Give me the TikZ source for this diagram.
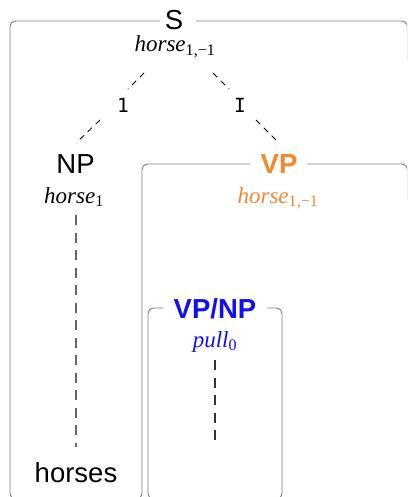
\documentclass[tikz,border=0pt]{standalone}
\usepackage{fontspec}
\setmainfont{Liberation Serif}
\setsansfont{Liberation Sans}
\setmonofont{DejaVu Sans Mono}

\definecolor{vporange}{RGB}{240,136,48}
\definecolor{vpblue}{RGB}{16,16,240}
\definecolor{framegray}{RGB}{128,128,128}

% semantic value: italic head with an upright subscript
\newcommand{\semval}[2]{\textit{#1}\textsubscript{\upshape #2}}

\tikzset{
  frame/.style={draw=framegray, line width=0.9pt, rounded corners=6pt},
  cat/.style={font=\sffamily\fontsize{27.5}{30}\selectfont, inner sep=0pt, anchor=base},
  sem/.style={font=\fontsize{23}{25}\selectfont, inner sep=0pt, anchor=base},
  treeedge/.style={draw=black, dash pattern=on 6pt off 5pt, line width=0.8pt},
  trace/.style={dash pattern=on 10pt off 7.5pt, line width=1.3pt},
  elabel/.style={font=\ttfamily\fontsize{19.5}{22}\selectfont, inner sep=0pt}
}

\begin{document}
\begin{tikzpicture}[x=1pt,y=-1pt]
\useasboundingbox (0,0) rectangle (407,497);
\clip (0,0) rectangle (407,497);

% frames
\draw[frame] (160,21) -- (10,21) -- (10,499) -- (40,499);
\draw[frame] (196,21) -- (407.5,21) -- (407.5,60);
\draw[frame] (250,164) -- (142,164) -- (142,499) -- (100,499);
\draw[frame] (307,164) -- (407.5,164) -- (407.5,200);
\draw[frame] (163,308) -- (148,308) -- (148,499) -- (282,499) -- (282,308) -- (267,308);

% categories and their values
\node[cat] (s) at (174,30) {S};
\node[sem] (sval) at (175,52) {\semval{horse}{1,−1}};
\node[cat] (np) at (75.5,173) {NP};
\node[sem] (npval) at (74,203) {\semval{horse}{1}};
\node[cat, font=\sffamily\bfseries\fontsize{27.5}{30}\selectfont, text=vporange] (vp) at (279,173) {VP};
\node[sem, text=vporange] (vpval) at (278,203) {\semval{horse}{1,−1}};
\node[cat, font=\sffamily\bfseries\fontsize{27.5}{30}\selectfont, text=vpblue] (vpnp) at (215,318) {VP/NP};
\node[sem, text=vpblue] (vpnpval) at (215,347) {\semval{pull}{0}};
\node[cat] (word) at (76,482) {horses};

% edge labels
\node[elabel] (l1) at (123,105) {1};
\node[elabel] (lI) at (240,105) {I};

% dashed tree edges, broken around their labels
\coordinate (aL) at (144,73);  \coordinate (bL) at (128,89);
\coordinate (cL) at (100,120); \coordinate (dL) at (76,143);
\coordinate (aR) at (213,73);  \coordinate (bR) at (229,89);
\coordinate (cR) at (256,120); \coordinate (dR) at (279,143);
\draw[treeedge] (aL) -- (bL) (cL) -- (dL);
\draw[treeedge] (aR) -- (bR) (cR) -- (dR);

% vertical traces
\coordinate (npt) at (76,215);  \coordinate (npb) at (76,447);
\coordinate (vpnpt) at (215,360); \coordinate (vpnpb) at (215,447);
\draw[trace, draw=black!60] (npt) -- (npb);
\draw[trace, draw=black!80] (vpnpt) -- (vpnpb);
\end{tikzpicture}
\end{document}
